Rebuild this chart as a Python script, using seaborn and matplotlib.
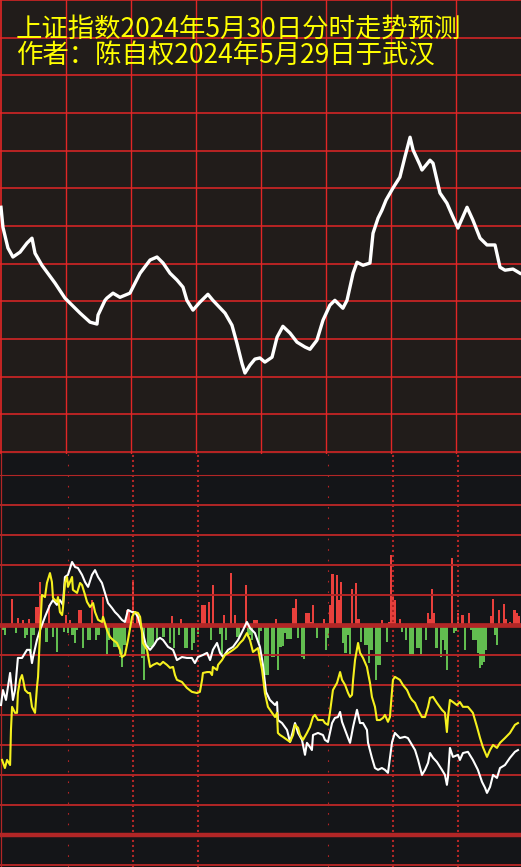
import pandas as pd
import matplotlib

matplotlib.use("Agg")
import matplotlib.pyplot as plt
import seaborn as sns

# ---- text ----
title_line1 = "上证指数2024年5月30日分时走势预测"
title_line2 = "作者：陈自权2024年5月29日于武汉"

# ---- top panel: predicted intraday index path (minute, grid units) ----
top_minute = [0.0, 0.9, 3.2, 5.5, 8.8, 12.0, 14.3, 15.7, 18.9, 24.9, 29.5, 36.5, 41.1,
              44.3, 44.8, 48.0, 48.9, 51.7, 54.9, 59.5, 64.2, 68.8, 72.0, 74.8, 78.0,
              81.2, 84.0, 85.8, 88.6, 91.8, 95.5, 97.8, 103.4, 106.6, 108.9, 111.2,
              112.6, 114.9, 117.2, 119.5, 121.8, 125.1, 127.4, 130.1, 133.4, 136.6,
              140.3, 142.6, 145.8, 148.6, 151.8, 154.1, 157.8, 159.7, 162.5, 164.3,
              167.1, 170.3, 171.7, 174.0, 175.8, 177.7, 180.9, 184.1, 186.4, 188.8,
              190.2, 193.4, 194.3, 198.0, 199.4, 202.6, 205.8, 208.6, 210.9, 215.1,
              217.8, 221.1, 224.3, 228.0, 230.3, 232.6, 236.3, 239.5]
top_value = [6.50, 5.97, 5.42, 5.18, 5.31, 5.55, 5.68, 5.28, 4.96, 4.49, 4.09, 3.69, 3.45,
             3.40, 3.64, 4.03, 4.09, 4.22, 4.11, 4.22, 4.75, 5.10, 5.18, 5.02, 4.75,
             4.57, 4.38, 4.03, 3.77, 3.98, 4.19, 4.03, 3.69, 3.37, 2.89, 2.36,
             2.10, 2.31, 2.47, 2.50, 2.39, 2.52, 3.05, 3.34, 3.16, 2.92,
             2.79, 2.73, 2.97, 3.50, 3.90, 4.03, 3.82, 4.03, 4.75, 5.04,
             4.96, 5.02, 5.81, 6.21, 6.42, 6.69, 7.01, 7.30, 7.83, 8.36,
             8.02, 7.62, 7.49, 7.75, 7.67, 6.88, 6.61, 6.24, 5.95, 6.50,
             6.16, 5.68, 5.50, 5.50, 4.91, 4.83, 4.86, 4.75]

# ---- bottom panel: white and yellow lines ----
white_minute = [0.0, 0.9, 2.3, 4.2, 5.5, 6.5, 7.8, 9.7, 12.0, 13.4, 14.3, 14.8, 16.6, 18.0,
                20.3, 22.6, 24.0, 25.8, 27.2, 28.6, 29.5, 30.9, 32.8, 34.2, 35.5, 37.4,
                38.8, 40.2, 42.0, 43.4, 44.8, 46.6, 48.0, 49.4, 51.2, 52.6, 54.0, 55.8,
                57.2, 58.6, 60.5, 61.8, 63.2, 65.1, 66.9, 68.8, 70.6, 72.0, 73.4, 74.8,
                77.1, 79.4, 81.2, 83.5, 85.8, 88.1, 89.5, 90.9, 93.2, 95.1, 96.5, 97.8,
                99.7, 101.1, 102.5, 104.8, 107.1, 109.4, 111.7, 113.5, 114.9, 117.2,
                119.5, 120.9, 122.3, 124.1, 126.5, 127.4, 127.8, 129.7, 132.0, 133.4,
                135.7, 137.1, 138.9, 140.3, 141.2, 142.6, 143.5, 144.0, 146.3, 148.6,
                149.5, 150.9, 152.8, 154.1, 155.5, 156.5, 157.4, 158.8, 160.2, 161.1,
                162.5, 164.3, 165.7, 167.1, 168.9, 169.4, 171.2, 172.6, 174.0, 175.8,
                177.2, 178.6, 180.5, 181.8, 184.1, 186.4, 187.8, 189.7, 191.1, 192.5,
                194.3, 195.7, 197.1, 198.0, 199.4, 201.2, 203.5, 204.9, 205.8, 206.3,
                207.2, 208.6, 210.9, 211.8, 213.2, 215.5, 217.8, 220.1, 222.0, 223.4,
                224.3, 225.7, 227.1, 228.9, 230.3, 232.6, 234.9, 237.2, 238.6]
white_value = [-2.67, -2.17, -2.5, -1.6, -2.5, -2.17, -1.1, -1.1, -0.83, -0.83, -1.27, -1.07,
               -0.5, -0.17, 0.27, 0.67, 0.83, 0.67, 0.83, 0.67, 1.6, 1.67, 2.1, 1.93, 1.9,
               1.67, 1.43, 1.27, 1.67, 1.83, 1.6, 1.4, 1.07, 0.73, 0.57, 0.43, 0.33, 0.17,
               0.1, 0.5, 0.43, 0.43, 0.27, -0.17, -0.67, -0.83, -0.67, -0.5, -0.43, -0.5,
               -0.73, -0.83, -1.17, -1.07, -1.1, -1.1, -1.27, -1.07, -1.0, -0.93, -1.17,
               -0.83, -0.6, -0.93, -1.07, -0.83, -0.73, -0.5, -0.17, 0.1, -0.1, -0.27,
               -0.73, -1.33, -2.23, -2.5, -2.67, -2.57, -3.17, -3.27, -3.5, -3.9,
               -3.27, -3.6, -3.83, -4.33, -3.93, -4.07, -4.17, -3.67, -3.6, -3.67,
               -3.83, -3.9, -3.27, -3.1, -3.07, -2.9, -3.23, -3.5, -3.77, -3.93,
               -3.4, -2.83, -3.27, -3.27, -3.5, -3.93, -4.43, -4.77, -4.83, -4.77,
               -4.83, -4.93, -3.9, -3.6, -3.77, -3.73, -3.77, -4.0, -4.17, -4.5,
               -5.0, -4.83, -4.6, -4.27, -4.43, -4.57, -4.83, -5.0, -5.33, -5.07,
               -4.1, -4.4, -4.33, -4.5, -4.27, -4.23, -4.5, -4.83, -5.23, -5.43,
               -5.6, -5.4, -5.0, -5.1, -4.77, -4.67, -4.43, -4.23, -4.17]

yellow_minute = [0.5, 1.8, 2.8, 4.2, 4.6, 5.1, 6.5, 7.4, 7.8, 8.8, 9.7, 10.2, 11.1, 12.5,
                 13.4, 14.3, 15.7, 16.6, 17.1, 18.0, 18.9, 20.3, 21.2, 22.6, 23.5, 24.0,
                 25.8, 26.3, 27.2, 28.2, 28.6, 29.5, 30.5, 30.9, 32.8, 33.2, 35.1, 36.5,
                 37.4, 38.8, 39.7, 41.1, 42.5, 43.4, 44.8, 46.6, 47.1, 48.9, 50.3, 51.7,
                 53.5, 54.9, 55.8, 57.2, 58.6, 60.5, 61.8, 63.2, 64.2, 65.1, 65.5, 67.4,
                 68.8, 70.2, 72.0, 73.4, 74.8, 76.6, 78.0, 79.4, 80.3, 81.2, 83.5, 85.8,
                 88.1, 90.5, 91.8, 92.8, 93.2, 95.1, 96.5, 97.4, 97.8, 99.7, 100.2, 102.0,
                 103.4, 105.7, 107.1, 108.9, 110.3, 111.7, 113.5, 114.9, 116.3, 118.6,
                 120.5, 121.8, 123.2, 125.1, 126.5, 127.4, 127.8, 128.8, 130.1, 132.0,
                 133.4, 134.8, 135.7, 137.1, 138.0, 139.4, 141.2, 142.6, 144.0, 144.9,
                 146.3, 148.6, 149.5, 150.9, 151.8, 152.8, 153.2, 155.1, 156.5, 157.4,
                 158.8, 160.2, 161.1, 162.0, 162.5, 163.4, 164.8, 165.7, 167.1, 168.9,
                 169.4, 170.3, 171.2, 172.6, 173.5, 174.9, 176.3, 177.2, 178.6, 179.5,
                 180.5, 180.9, 181.8, 184.1, 185.5, 187.4, 188.8, 189.7, 191.1, 192.5,
                 194.3, 195.7, 197.1, 198.0, 199.4, 201.2, 203.5, 204.9, 205.8, 206.3,
                 207.2, 208.6, 210.4, 211.8, 213.2, 215.5, 217.8, 219.7, 221.1, 222.4,
                 224.3, 225.7, 227.1, 228.9, 230.3, 232.6, 234.9, 237.2, 238.6]
yellow_value = [-4.5, -4.77, -4.5, -4.67, -3.5, -2.73, -2.93, -2.93, -2.27, -1.83, -1.67,
                -1.83, -2.17, -2.27, -2.27, -2.73, -2.93, -2.07, -1.73, -0.27, 1.0, 0.93,
                1.4, 1.73, 1.43, 0.9, 0.77, 0.93, 0.43, 0.33, 0.57, 1.4, 1.6, 1.27, 1.6,
                1.17, 1.07, 1.4, 1.33, 1.0, 0.77, 0.6, 0.73, 0.43, 0.17, 0.1, 0.27, -0.17,
                -0.4, -0.5, -0.6, -0.83, -1.07, -1.0, -0.5, 0.27, 0.43, 0.4, 0.27, -0.27,
                -0.6, -0.83, -1.4, -1.33, -1.27, -1.33, -1.23, -1.33, -1.43, -1.4, -1.67,
                -1.83, -1.9, -2.1, -2.23, -2.27, -2.23, -1.83, -1.6, -1.57, -1.57, -1.67,
                -1.4, -1.5, -1.33, -1.17, -1.0, -0.9, -0.83, -0.73, -0.6, -0.5, -0.27,
                -0.5, -0.9, -0.77, -1.5, -2.27, -2.73, -2.93, -3.07, -2.93, -3.6, -3.67,
                -3.73, -3.83, -3.9, -3.67, -3.33, -3.43, -3.67, -3.83, -3.6, -3.4, -3.07,
                -3.0, -3.17, -3.17, -3.27, -3.33, -2.93, -2.4, -2.17, -1.93, -1.57, -1.83,
                -2.0, -2.27, -2.4, -2.33, -1.83, -1.17, -0.6, -0.93, -1.1, -1.4, -1.6,
                -1.93, -2.4, -2.73, -3.17, -3.17, -3.1, -3.0, -3.23, -3.07, -2.17, -1.83,
                -1.73, -1.83, -2.0, -2.17, -2.4, -2.5, -2.6, -2.83, -3.07, -3.07, -2.73,
                -2.43, -2.4, -2.6, -2.83, -2.93, -3.57, -3.07, -2.5, -2.57, -2.67, -2.57,
                -2.73, -2.73, -2.93, -3.4, -3.77, -4.07, -4.4, -4.17, -4.0, -4.1, -3.93,
                -3.77, -3.6, -3.33, -3.27]

# ---- bottom panel: red (up) and green (down) bars ----
red_minute = [5, 8, 10, 13, 16, 17, 18, 22, 30, 32, 36, 37, 42, 47, 58, 59, 61, 63, 79, 83,
              93, 94, 96, 98, 103, 106, 108, 113, 117, 118, 127, 135, 136, 141, 142, 143,
              144, 149, 152, 153, 155, 156, 157, 162, 164, 165, 176, 179, 180, 181, 182,
              184, 197, 198, 199, 200, 208, 211, 213, 216, 226, 227, 230, 232, 233, 235,
              237, 238, 239]
red_value = [0.87, 0.23, 0.17, 0.2, 0.6, 0.6, 1.43, 0.67, 0.33, 0.17, 0.5, 0.5, 0.83, 0.93,
             0.5, 0.5, 1.43, 0.4, 0.3, 0.2, 0.67, 0.67, 0.77, 1.33, 0.33, 1.73, 0.33, 1.33,
             0.17, 0.17, 0.2, 0.57, 0.87, 0.4, 0.4, 0.1, 0.67, 0.2, 0.67, 1.7, 1.67, 0.83,
             1.43, 1.2, 1.4, 0.2, 0.17, 0.1, 2.33, 0.93, 0.83, 0.2, 0.4, 0.2, 1.2, 0.4,
             2.23, 0.4, 0.33, 0.4, 0.3, 0.87, 0.5, 0.7, 0.2, 0.1, 0.5, 0.4, 0.3]
green_minute = [1, 2, 7, 11, 12, 14, 15, 21, 24, 26, 29, 31, 33, 34, 35, 38, 40, 41, 44, 45,
                49, 50, 52, 53, 54, 55, 56, 57, 65, 66, 68, 69, 70, 72, 75, 78, 80, 82, 85,
                86, 88, 89, 91, 97, 101, 102, 104, 109, 110, 114, 115, 116, 119, 120, 122,
                123, 125, 126, 128, 129, 130, 131, 132, 133, 134, 137, 139, 140, 146, 150,
                151, 158, 159, 160, 161, 166, 168, 169, 170, 171, 173, 174, 175, 178, 185,
                187, 189, 190, 192, 193, 194, 196, 201, 203, 204, 205, 206, 209, 210, 214,
                217, 218, 219, 220, 221, 222, 223, 224, 228, 229]
green_value = [-0.17, -0.33, -0.27, -0.43, -0.33, -0.93, -0.33, -0.57, -0.4, -0.9, -0.23,
               -0.27, -0.33, -0.6, -0.17, -0.77, -0.5, -0.5, -0.5, -0.33, -1.0, -0.5, -0.73,
               -0.73, -0.73, -1.07, -1.4, -0.67, -1.1, -1.83, -0.73, -0.73, -0.73, -0.5,
               -0.4, -0.6, -0.77, -0.33, -0.77, -0.77, -0.83, -0.6, -0.3, -0.5, -0.3, -1.0,
               -0.5, -0.4, -0.4, -0.4, -0.33, -0.5, -0.6, -0.2, -1.67, -1.67, -1.07, -1.07,
               -1.5, -0.73, -0.7, -0.27, -0.47, -0.47, -0.47, -0.43, -1.07, -1.13, -0.43,
               -0.83, -0.43, -0.6, -0.93, -0.33, -1.0, -0.57, -0.67, -0.67, -1.27, -0.83,
               -1.83, -1.33, -1.33, -0.57, -0.23, -0.5, -1.0, -1.0, -0.77, -0.77, -1.0,
               -0.5, -0.77, -1.07, -0.5, -0.83, -1.5, -0.27, -0.2, -0.83, -0.17, -0.5, -0.5,
               -0.93, -1.43, -1.33, -1.23, -0.83, -0.33, -0.67]

W, H = 521, 867
fig = plt.figure(figsize=(W / 100, H / 100), dpi=100)
fig.patch.set_facecolor("#141518")

# top panel (pixel rows -1..454), bottom panel (454..867)
ax1 = fig.add_axes([0, 1 - 454 / H, 1, 455 / H])
ax2 = fig.add_axes([0, 0, 1, 413 / H])
x_lo, x_hi = -0.46, 240.0

# ---------------- top panel ----------------
ax1.set_facecolor("#211c1a")
ax1.set_xlim(x_lo, x_hi)
ax1.set_ylim(-0.05, 12.03)
grid_red = "#e12626"
for v in range(0, 13):
    ax1.axhline(v, color=grid_red, lw=1.1, zorder=1)
for m in range(30, 240, 30):
    ax1.axvline(m, color=grid_red, lw=1.0, zorder=1)
ax1.axvline(0, color=grid_red, lw=1.2, zorder=1)
sns.lineplot(x=top_minute, y=top_value, ax=ax1, color="white", lw=2.4,
             estimator=None, sort=False, zorder=3)
for s in ax1.spines.values():
    s.set_visible(False)
ax1.set_xticks([])
ax1.set_yticks([])
ax1.set_xlabel("")
ax1.set_ylabel("")

# ---------------- bottom panel ----------------
ax2.set_facecolor("#141518")
ax2.set_xlim(x_lo, x_hi)
ax2.set_ylim(-8.07, 5.70)
dark_red = "#b22626"

bars = pd.DataFrame({
    "minute": red_minute + green_minute,
    "value": red_value + green_value,
    "side": ["up"] * len(red_minute) + ["down"] * len(green_minute),
})
sns.barplot(data=bars, x="minute", y="value", hue="side", ax=ax2,
            palette={"up": "#e8403c", "down": "#62bd50"}, native_scale=True,
            dodge=False, width=1.0, saturation=1, errorbar=None, legend=False,
            linewidth=0, antialiased=False, zorder=1)

for v in [4, 3, 2, 1, -1, -2, -3, -4, -5, -6, -8]:
    ax2.axhline(v, color=dark_red, lw=1.4, zorder=2)
ax2.axhline(5, color=dark_red, lw=0.8, zorder=2)
ax2.axhline(0, color=dark_red, lw=3.4, zorder=2)
ax2.axhline(-7, color=dark_red, lw=3.2, zorder=2)
ax2.axvline(0, color=dark_red, lw=0.9, zorder=2)
for m in [31, 151]:
    ax2.axvline(m, color=dark_red, lw=0.8, ls=(0, (1.5, 8)), zorder=2)
for m in [61, 91, 181, 211]:
    ax2.axvline(m, color=dark_red, lw=1.5, ls=(0, (1.0, 1.4)), zorder=2)

sns.lineplot(x=white_minute, y=white_value, ax=ax2, color="white", lw=1.5,
             estimator=None, sort=False, zorder=4)
sns.lineplot(x=yellow_minute, y=yellow_value, ax=ax2, color="#f5f01e", lw=1.5,
             estimator=None, sort=False, zorder=4)
for s in ax2.spines.values():
    s.set_visible(False)
ax2.set_xticks([])
ax2.set_yticks([])
ax2.set_xlabel("")
ax2.set_ylabel("")

# ---------------- title ----------------
cjk = ["Noto Sans CJK SC", "DejaVu Sans"]
fig.text(16 / W, 1 - 29 / H, title_line1, color="#ffff00", fontsize=19,
         family=cjk, va="center", ha="left")
fig.text(16 / W, 1 - 55 / H, title_line2, color="#ffff00", fontsize=19,
         family=cjk, va="center", ha="left")

fig.savefig("out.png", dpi=100, facecolor=fig.get_facecolor())
